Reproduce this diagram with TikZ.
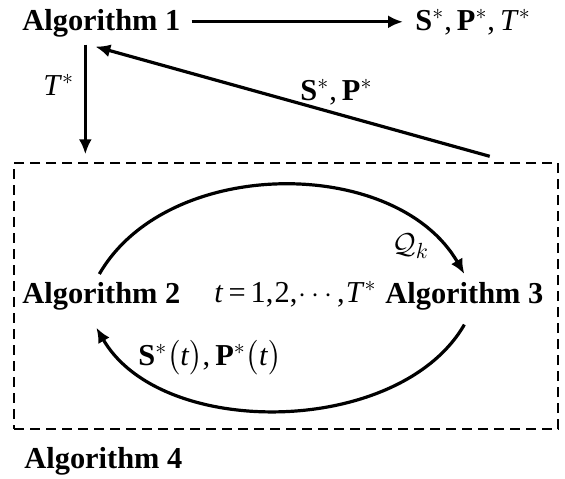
\documentclass[tikz,border=0pt]{standalone}
\usepackage{amsmath}
\usepackage{fontspec}
\setmainfont{Liberation Serif}
\usetikzlibrary{arrows.meta}

\begin{document}
\begin{tikzpicture}[
  x=0.5pt, y=0.5pt,
  font=\fontsize{15.2}{18}\selectfont,
  alg/.style={inner sep=0pt, anchor=base west, text height=0.9em, text depth=0.08em, font=\fontsize{15.2}{18}\selectfont\bfseries},
  lbl/.style={inner sep=0pt, anchor=base west, text height=0.9em, text depth=0.08em},
  arr/.style={-{Latex[length=7.5pt,width=6.5pt]}, line width=1.6pt},
  frame/.style={draw, dash pattern=on 5pt off 3pt, line width=0.7pt, minimum width=272pt, minimum height=133pt, inner sep=0pt}
]
\useasboundingbox (0,0) rectangle (565,478);
\node[frame] (box) at (286,182) {};
\node[alg] (alg1) at (22,448) {Algorithm 1};
\node[lbl] (res) at (415,448) {\textbf{S}$^*$,\,\textbf{P}$^*$,\,\textit{T}$^*$};
\node[alg] (alg2) at (22,175) {Algorithm 2};
\node[alg] (alg3) at (385,175) {Algorithm 3};
\node[lbl] (iter) at (214,176) {\textit{t}\,=\,1,\kern.04em 2,\kern.04em$\cdots$,\kern.04em\textit{T}$^*$};
\node[alg] (alg4) at (24,10) {Algorithm 4};
\node[lbl] (tlab) at (43,383) {\textit{T}$^*$};
\node[lbl] (splab) at (300,378) {\textbf{S}$^*$,\,\textbf{P}$^*$};
\node[lbl] (qlab) at (392,225) {$\mathcal{Q}_k$};
\node[lbl] (sptlab) at (138,113) {\textbf{S}$^*\bigl($\textit{t}$\bigr)$,\,\textbf{P}$^*\bigl($\textit{t}$\bigr)$};
% connectors
\draw[arr, shorten <=5.5pt, shorten >=6pt] (alg1.east) -- (res.west);
\draw[arr, shorten <=6.3pt, shorten >=4pt] ([xshift=-8pt]alg1.south) -- ([xshift=-8pt]alg1.south |- box.north);
\draw[arr] ([xshift=-34.5pt,yshift=3pt]box.north east) -- ([xshift=-3pt,yshift=-7.3pt]alg1.south);
\draw[arr] ([xshift=-1pt,yshift=5.3pt]alg2.north) to[out=60, in=120, looseness=0.96] ([yshift=5.3pt]alg3.north);
\draw[arr] ([yshift=-9.8pt]alg3.south) to[out=-120, in=-60, looseness=0.9] ([xshift=-2.5pt,yshift=-11.3pt]alg2.south);
\end{tikzpicture}
\end{document}
